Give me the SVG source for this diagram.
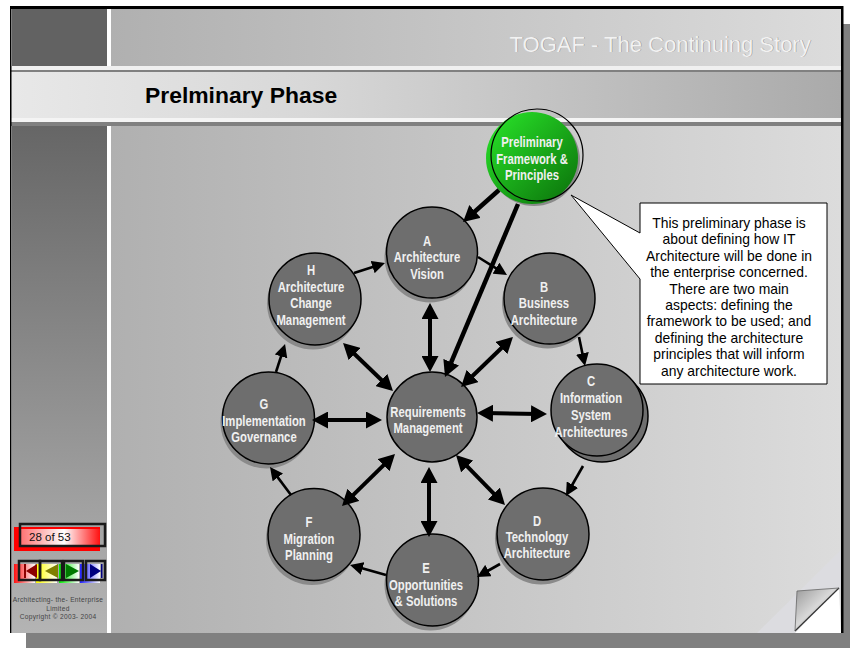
<svg xmlns="http://www.w3.org/2000/svg" width="850" height="648" viewBox="0 0 850 648">
<style>
.lab{font-family:"Liberation Sans",Arial,sans-serif;font-size:13.8px;font-weight:bold;fill:#f0f0f0;text-anchor:middle}
.call{font-family:"Liberation Sans",Arial,sans-serif;font-size:13.9px;fill:#000;text-anchor:middle}
.c{fill:#6e6e6e;stroke:#000;stroke-width:1.5}
.s{fill:#8a8a8a}
.a{fill:none;stroke:#000;stroke-width:2.6;marker-end:url(#hm)}
.p{fill:none;stroke:#000;stroke-width:4.5;marker-end:url(#h)}
.d{fill:none;stroke:#000;stroke-width:4;marker-end:url(#h);marker-start:url(#hs)}
.box{fill:none;stroke:#1a1a1a;stroke-width:2.5}
.foot{font-family:"Liberation Sans",Arial,sans-serif;font-size:6.6px;letter-spacing:.3px;fill:#444;text-anchor:middle}
</style>
<defs>
<marker id="h" markerUnits="userSpaceOnUse" markerWidth="16" markerHeight="17" refX="8" refY="8.5" orient="auto"><path d="M0,0L16,8.5L0,17z" fill="#000"/></marker>
<marker id="hs" markerUnits="userSpaceOnUse" markerWidth="16" markerHeight="17" refX="8" refY="8.5" orient="auto"><path d="M16,0L0,8.5L16,17z" fill="#000"/></marker>
<marker id="hm" markerUnits="userSpaceOnUse" markerWidth="13" markerHeight="13" refX="5" refY="6.5" orient="auto"><path d="M0,0L13,6.5L0,13z" fill="#000"/></marker>
<linearGradient id="hd"><stop offset="0" stop-color="#b0b0b0"/><stop offset="1" stop-color="#dcdcdc"/></linearGradient>
<linearGradient id="bd"><stop offset="0" stop-color="#e8e8e8"/><stop offset=".35" stop-color="#d8d8d8"/><stop offset="1" stop-color="#aaaaaa"/></linearGradient>
<linearGradient id="lc" x2="0" y2="1"><stop offset="0" stop-color="#666666"/><stop offset="1" stop-color="#b4b4b4"/></linearGradient>
<linearGradient id="gr" x2="1" y2="1"><stop offset="0" stop-color="#2ae82a"/><stop offset="1" stop-color="#0a6e0a"/></linearGradient>
<linearGradient id="rd"><stop offset="0" stop-color="#ff7070"/><stop offset=".55" stop-color="#ffffff"/><stop offset="1" stop-color="#ff1010"/></linearGradient>
<linearGradient id="r2"><stop offset="0" stop-color="#ff1010"/><stop offset="1" stop-color="#ffffff"/></linearGradient>
<linearGradient id="y2"><stop offset="0" stop-color="#ffff00"/><stop offset="1" stop-color="#ffffff"/></linearGradient>
<linearGradient id="g2"><stop offset="0" stop-color="#00ee00"/><stop offset="1" stop-color="#ffffff"/></linearGradient>
<linearGradient id="b2"><stop offset="0" stop-color="#2020ff"/><stop offset="1" stop-color="#ffffff"/></linearGradient>
<linearGradient id="cu" x2="1" y2="1"><stop offset="0" stop-color="#999999"/><stop offset=".45" stop-color="#d8d8d8"/><stop offset="1" stop-color="#6a6a6a"/></linearGradient>
</defs>
<rect width="850" height="648" fill="#fff"/>
<g id="slide">
<rect x="26" y="24" width="824" height="624" fill="#808080"/>
<rect x="10" y="6" width="833" height="627" fill="#fff"/>
<rect x="12" y="9" width="95" height="57" fill="#626262"/>
<rect x="111" y="9" width="730" height="57" fill="url(#hd)"/>
<rect x="11" y="66" width="830" height="4" fill="#f0f0f0"/>
<rect x="11" y="70" width="830" height="2" fill="#808080"/>
<rect x="11" y="72" width="830" height="46" fill="url(#bd)"/>
<rect x="11" y="118" width="830" height="4" fill="#f4f4f4"/>
<rect x="11" y="122" width="830" height="4" fill="#808080"/>
<rect x="12" y="126" width="95" height="507" fill="url(#lc)"/>
<rect x="111" y="126" width="730" height="507" fill="url(#hd)"/>
<rect x="10" y="6" width="833" height="3" fill="#000"/>
<rect x="10" y="6" width="1.5" height="627" fill="#000"/>
<rect x="841" y="6" width="2.5" height="627" fill="#000"/>
<text x="510" y="52" font-family="'Liberation Sans',Arial,sans-serif" font-size="22px" fill="#8a8a8a">TOGAF - The Continuing Story</text>
<text x="509.5" y="51.5" font-family="'Liberation Sans',Arial,sans-serif" font-size="22px" fill="#f2f2f2">TOGAF - The Continuing Story</text>
<text x="145" y="103" font-family="'Liberation Sans',Arial,sans-serif" font-size="22.9px" font-weight="bold" fill="#000">Prelminary Phase</text>
</g>
<g id="page-curl">
<polygon points="841,550 841,588 795,633 757,633" fill="#dcdce0"/>
<polygon points="839,588 841,633 795,633" fill="#fff"/>
<polygon points="797,591 839,588 795,631" fill="url(#cu)"/>
<path d="M795,631L839,588" stroke="#333" stroke-width="1.2" fill="none"/>
<path d="M795,631L797,591L839,588" stroke="#666" stroke-width=".8" fill="none"/>
</g>
<g id="node-A"><circle class="s" cx="430" cy="257" r="45.5"/><circle class="c" cx="432" cy="252.5" r="45.5"/><text class="lab" transform="translate(427 0) scale(.82 1)"><tspan x="0" y="246">A</tspan><tspan x="0" y="262">Architecture</tspan><tspan x="0" y="279">Vision</tspan></text></g>
<g id="node-B"><circle class="s" cx="547.5" cy="303" r="45.5"/><circle class="c" cx="549.5" cy="298.5" r="45.5"/><text class="lab" transform="translate(544 0) scale(.82 1)"><tspan x="0" y="292">B</tspan><tspan x="0" y="308">Business</tspan><tspan x="0" y="325">Architecture</tspan></text></g>
<g id="node-C"><circle class="c" cx="602" cy="416" r="46"/><circle class="c" cx="597" cy="410" r="46"/><text class="lab" transform="translate(591 0) scale(.82 1)"><tspan x="0" y="386">C</tspan><tspan x="0" y="403">Information</tspan><tspan x="0" y="420">System</tspan><tspan x="0" y="437">Architectures</tspan></text></g>
<g id="node-D"><circle class="s" cx="541" cy="538.5" r="46"/><circle class="c" cx="543" cy="534" r="46"/><text class="lab" transform="translate(537 0) scale(.82 1)"><tspan x="0" y="526">D</tspan><tspan x="0" y="542">Technology</tspan><tspan x="0" y="558">Architecture</tspan></text></g>
<g id="node-E"><circle class="s" cx="430.5" cy="584.5" r="46"/><circle class="c" cx="432.5" cy="580" r="46"/><text class="lab" transform="translate(426 0) scale(.82 1)"><tspan x="0" y="573">E</tspan><tspan x="0" y="590">Opportunities</tspan><tspan x="0" y="606">&amp; Solutions</tspan></text></g>
<g id="node-F"><circle class="s" cx="312" cy="539" r="46"/><circle class="c" cx="314" cy="534.5" r="46"/><text class="lab" transform="translate(309 0) scale(.82 1)"><tspan x="0" y="527">F</tspan><tspan x="0" y="544">Migration</tspan><tspan x="0" y="560">Planning</tspan></text></g>
<g id="node-G"><circle class="s" cx="266.5" cy="422.5" r="46"/><circle class="c" cx="268.5" cy="418" r="46"/><text class="lab" transform="translate(264 0) scale(.82 1)"><tspan x="0" y="409">G</tspan><tspan x="0" y="426">Implementation</tspan><tspan x="0" y="442">Governance</tspan></text></g>
<g id="node-H"><circle class="s" cx="313" cy="303.5" r="46"/><circle class="c" cx="315" cy="299" r="46"/><text class="lab" transform="translate(311 0) scale(.82 1)"><tspan x="0" y="275">H</tspan><tspan x="0" y="292">Architecture</tspan><tspan x="0" y="308">Change</tspan><tspan x="0" y="325">Management</tspan></text></g>
<g id="node-Requirements"><circle class="c" cx="432" cy="417" r="45"/><text class="lab" transform="translate(428 0) scale(.82 1)"><tspan x="0" y="417">Requirements</tspan><tspan x="0" y="433">Management</tspan></text></g>
<g id="node-Preliminary"><circle cx="534" cy="160" r="46" fill="#8a8a8a"/><circle cx="532" cy="158" r="46" fill="url(#gr)"/><circle cx="537" cy="155" r="46" fill="none" stroke="#000" stroke-width="1.2"/><text class="lab" transform="translate(532 0) scale(.82 1)"><tspan x="0" y="147">Preliminary</tspan><tspan x="0" y="164">Framework &amp;</tspan><tspan x="0" y="180">Principles</tspan></text></g>
<g id="connectors">
<line class="a" x1="354" y1="273" x2="377.4" y2="265.5"/>
<line class="d" x1="430" y1="311" x2="430" y2="364"/>
<line class="d" x1="348.8" y1="348.5" x2="387.2" y2="385.5"/>
<line class="d" x1="320" y1="420" x2="374" y2="420"/>
<line class="a" x1="276" y1="372" x2="282.6" y2="351.6"/>
<line class="p" x1="499" y1="190" x2="469" y2="216.7"/>
<line class="a" x1="478" y1="257" x2="500.2" y2="270.8"/>
<line class="p" x1="518" y1="204" x2="448.1" y2="369.6"/>
<line class="a" x1="579" y1="337" x2="583.4" y2="358.2"/>
<line class="d" x1="507.2" y1="342.5" x2="466.8" y2="381.5"/>
<line class="d" x1="485" y1="413.1" x2="539" y2="413.9"/>
<line class="a" x1="583" y1="466" x2="569.9" y2="489"/>
<line class="d" x1="461.6" y1="460.7" x2="499.4" y2="499.3"/>
<line class="d" x1="429" y1="475" x2="429" y2="529"/>
<line class="a" x1="500" y1="564" x2="484" y2="573"/>
<line class="a" x1="386" y1="575" x2="357.7" y2="567.1"/>
<line class="a" x1="291" y1="495" x2="274.8" y2="473.4"/>
<line class="d" x1="347.7" y1="500.4" x2="389.3" y2="459.6"/>
</g>
<g id="callout">
<polygon points="571,195 640,233 640,203 827,203 827,384 640,384 640,279" fill="#fff" stroke="#000" stroke-width="1"/>
<text class="call"><tspan x="729" y="228">This preliminary phase is</tspan><tspan x="729" y="244.4">about defining how IT</tspan><tspan x="729" y="260.8">Architecture will be done in</tspan><tspan x="729" y="277.2">the enterprise concerned.</tspan><tspan x="729" y="293.6">There are two main</tspan><tspan x="729" y="310">aspects: defining the</tspan><tspan x="729" y="326.4">framework to be used; and</tspan><tspan x="729" y="342.8">defining the architecture</tspan><tspan x="729" y="359.2">principles that will inform</tspan><tspan x="729" y="375.6">any architecture work.</tspan></text>
</g>
<g id="counter">
<rect x="14" y="527" width="86" height="24" fill="#ff0000"/>
<rect x="20" y="529" width="80" height="18" fill="url(#rd)"/>
<rect x="20" y="524" width="85" height="22" class="box"/>
<text x="29" y="541" font-family="'Liberation Sans',Arial,sans-serif" font-size="11.5px" fill="#111">28 of 53</text>
</g>
<g id="nav">
<rect x="14" y="564" width="21" height="19" fill="url(#r2)"/>
<rect x="36" y="564" width="21" height="19" fill="url(#y2)"/>
<rect x="59" y="564" width="20" height="19" fill="url(#g2)"/>
<rect x="80" y="564" width="20" height="19" fill="url(#b2)"/>
<rect x="19" y="561" width="21" height="19" class="box"/>
<rect x="40" y="561" width="22" height="19" class="box"/>
<rect x="64" y="561" width="19" height="19" class="box"/>
<rect x="86" y="561" width="19" height="19" class="box"/>
<polygon points="37,564 26,571 37,578" fill="#8b0000"/><rect x="24" y="564" width="2" height="14" fill="#8b0000"/>
<polygon points="58,564 45,571 58,578" fill="#808000"/>
<polygon points="66,564 79,571 66,578" fill="#007a00"/>
<polygon points="90,564 101,571 90,578" fill="#000080"/><rect x="101" y="564" width="1.5" height="14" fill="#000080"/>
</g>
<g id="footer"><text class="foot"><tspan x="58" y="602">Architecting- the- Enterprise</tspan><tspan x="58" y="610.5">Limited</tspan><tspan x="58" y="619">Copyright © 2003- 2004</tspan></text></g>
</svg>
